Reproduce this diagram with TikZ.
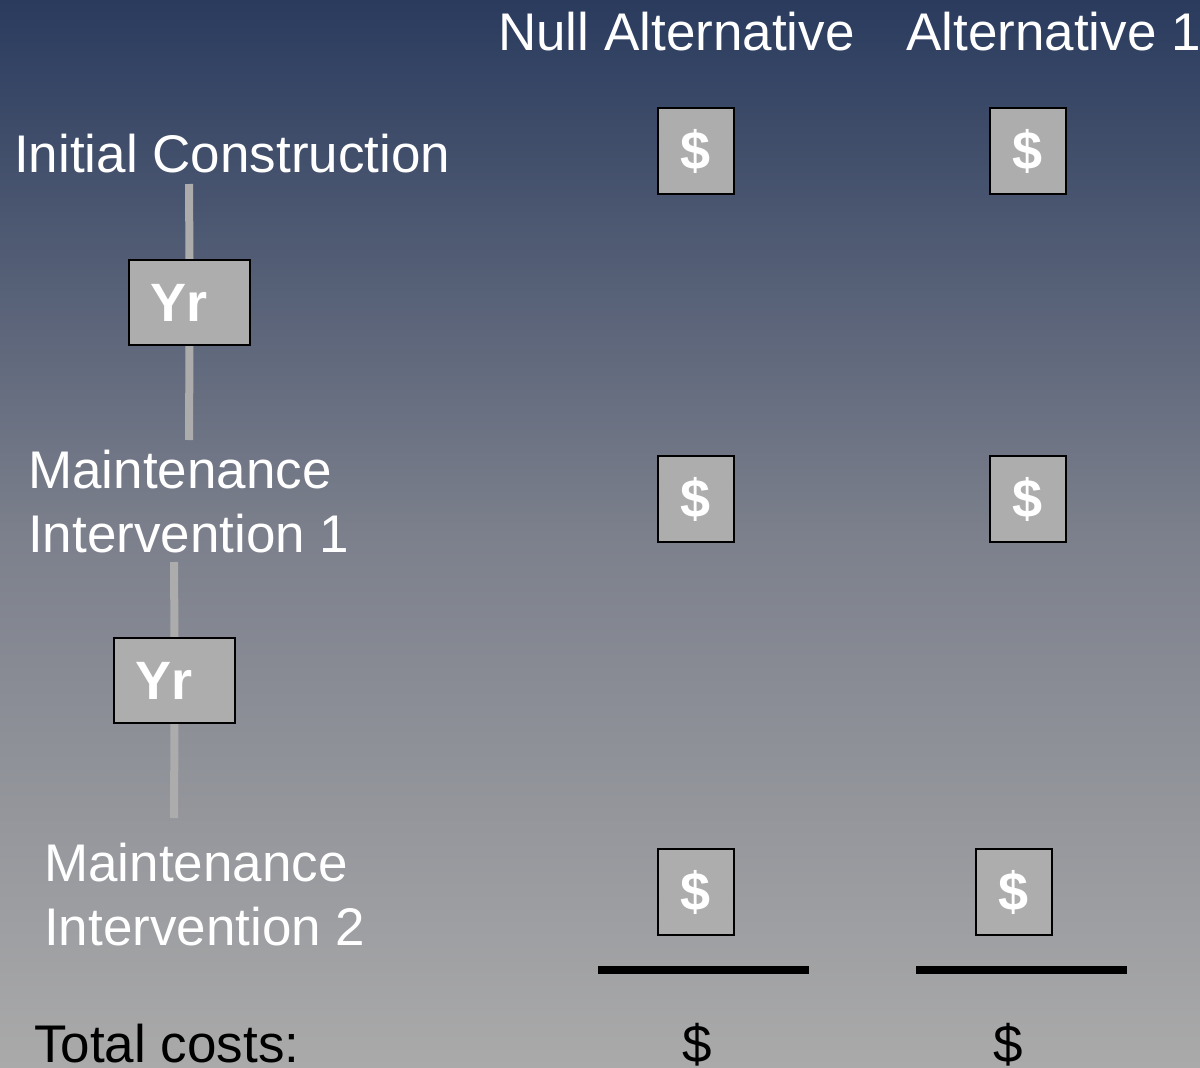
\documentclass[tikz,border=0pt]{standalone}
\usepackage{fontspec}
\setmainfont{Liberation Sans}
\pgfdeclarelayer{bglayer}
\pgfdeclarelayer{linklayer}
\pgfsetlayers{bglayer,linklayer,main}
\begin{document}
\definecolor{bgtop}{RGB}{42,59,94}
\definecolor{bgmid}{RGB}{124,128,140}
\definecolor{bgbot}{RGB}{170,170,170}
\definecolor{boxfill}{RGB}{173,173,173}
\definecolor{linkgray}{RGB}{172,172,172}
\begin{tikzpicture}[x=1pt,y=-1pt,
  label/.style={text=white,anchor=base west,align=left,inner sep=0pt,
    font=\fontsize{53}{64}\selectfont},
  total/.style={text=black,anchor=base,inner sep=0pt,
    font=\fontsize{53}{64}\selectfont},
  costbox/.style={draw=black,line width=2pt,fill=boxfill,text=white,
    minimum width=76pt,minimum height=86pt,inner sep=0pt,
    font=\fontsize{54}{54}\selectfont\bfseries},
  yrbox/.style={draw=black,line width=1.5pt,fill=boxfill,text=white,
    minimum height=85pt,inner xsep=21pt,inner ysep=0pt,text width=79pt,
    align=left,font=\fontsize{54}{54}\selectfont\bfseries},
  link/.style={draw=linkgray,line width=8pt},
  sumbar/.style={draw=black,line width=8pt}]

% background
\useasboundingbox (0,0) rectangle (1200,1068);
\begin{pgfonlayer}{bglayer}
  \fill[top color=bgtop,bottom color=bgbot,middle color=bgmid] (0,0) rectangle (1200,1068);
\end{pgfonlayer}

% column headings
\node[label] (hnull) at (498,50) {Null Alternative};
\node[label] (halt) at (906,50) {Alternative 1};

% row labels (anchored at the baseline of the last line)
\node[label] (rinit) at (14,172) {Initial Construction};
\node[label] (rm1) at (28,552) {Maintenance\\Intervention 1};
\node[label] (rm2) at (44,945) {Maintenance\\Intervention 2};

% year links between the rows
\coordinate (l1a) at (189,184);
\coordinate (l1b) at (189,440);
\coordinate (l2a) at (174,562);
\coordinate (l2b) at (174,818);
\node[yrbox] (yr1) at (189.5,302.5) {Yr};
\node[yrbox] (yr2) at (174.5,680.5) {Yr};
\begin{pgfonlayer}{linklayer}
  \path[link] (l1a) -- (yr1.north);
  \path[link] (yr1.south) -- (l1b);
  \path[link] (l2a) -- (yr2.north);
  \path[link] (yr2.south) -- (l2b);
\end{pgfonlayer}

% cost boxes
\node[costbox] (c11) at (696,151) {\$};
\node[costbox] (c12) at (1028,151) {\$};
\node[costbox] (c21) at (696,499) {\$};
\node[costbox] (c22) at (1028,499) {\$};
\node[costbox] (c31) at (696,892) {\$};
\node[costbox] (c32) at (1013.5,892) {\$};

% summation bars
\coordinate (b1a) at (598,970);
\coordinate (b1b) at (809,970);
\coordinate (b2a) at (916,970);
\coordinate (b2b) at (1127,970);
\path[sumbar] (b1a) -- (b1b);
\path[sumbar] (b2a) -- (b2b);

% totals
\node[total,anchor=base west] (ttl) at (34,1062) {Total costs:};
\node[total] (t1) at (697,1062) {\$};
\node[total] (t2) at (1008,1062) {\$};
\end{tikzpicture}
\end{document}
